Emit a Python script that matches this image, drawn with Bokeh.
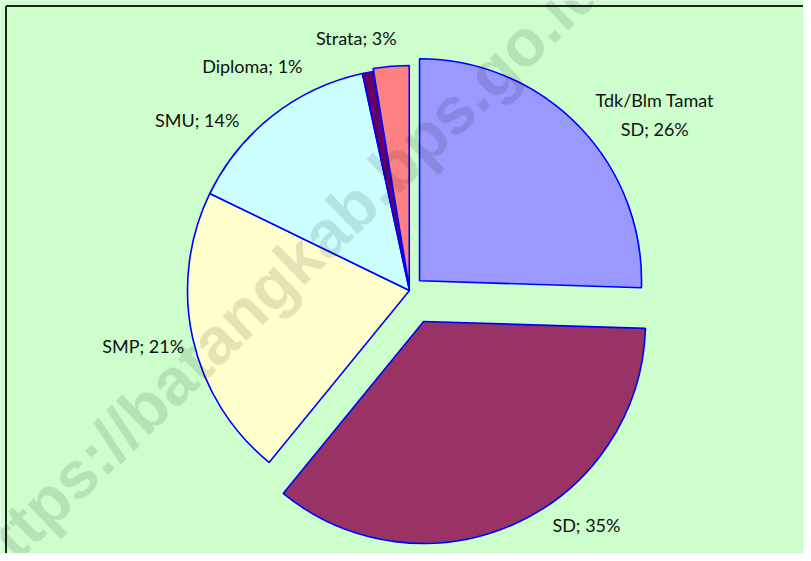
import math
from bokeh.plotting import figure
from bokeh.models import Range1d, ColumnDataSource, Label
from bokeh.embed import file_html
from bokeh.resources import INLINE
from bokeh.core.properties import value

# ---- data ----
categories = ["Tdk/Blm Tamat SD", "SD", "SMP", "SMU", "Diploma", "Strata"]
shares = [25.5, 35.4, 21.3, 14.4, 0.8, 2.6]

# ---- styles ----
colors = ["#9999FF", "#993366", "#FFFFCC", "#CCFFFF", "#660066", "#FF8080"]
explode = [14, 34, 0, 0, 0, 3]            # px offset of each slice
label_place = [(302, 35.7), (294, -53.0), (272, -168.3),
               (272, 141.3), (274, 125.0), (258, 101.9)]  # (radius, deg) of label
label_lines = [2, 1, 1, 1, 1, 1]
BG = "#CCFFCC"
W, H = 803, 553
CX, CY, R = 409, H - 290, 222   # pie centre in plot units (1 unit = 1 px)

p = figure(width=W, height=H, output_backend="svg", toolbar_location=None,
           x_range=Range1d(0, W), y_range=Range1d(0, H),
           min_border=0, background_fill_color=BG, border_fill_color=BG,
           outline_line_color=None)
p.axis.visible = False
p.grid.visible = False

total = sum(shares)
xs, ys, a0s, a1s, lx, ly, texts = [], [], [], [], [], [], []
cum = 0.0
for cat, v, ex, (lr, la), nl in zip(categories, shares, explode, label_place, label_lines):
    start = 90 - (cum + v) / total * 360
    end = 90 - cum / total * 360
    mid = math.radians((start + end) / 2)
    cum += v
    xs.append(CX + ex * math.cos(mid))
    ys.append(CY + ex * math.sin(mid))
    a0s.append(math.radians(start))
    a1s.append(math.radians(end))
    lx.append(CX + lr * math.cos(math.radians(la)))
    ly.append(CY + lr * math.sin(math.radians(la)))
    pct = int(v / total * 100 + 0.5)
    if nl == 2:
        head, tail = cat.rsplit(" ", 1)
        texts.append(f"{head}\n{tail}; {pct}%")
    else:
        texts.append(f"{cat}; {pct}%")

src = ColumnDataSource(dict(x=xs, y=ys, a0=a0s, a1=a1s, color=colors,
                            lx=lx, ly=ly, text=texts))

p.wedge(x="x", y="y", radius=R, start_angle="a0", end_angle="a1",
        direction="anticlock", fill_color="color", line_color="#0000FF",
        line_width=1.6, source=src)

p.text(x="lx", y="ly", text="text", source=src, text_align="center",
       text_baseline="middle", text_font=value("Lato"), text_font_size="18px",
       text_color="#111111", text_line_height=1.3)

wm = Label(x=281, y=H - 275, text="https://batangkab.bps.go.id",
           angle=44, angle_units="deg", text_align="center",
           text_baseline="middle", text_font="Liberation Sans",
           text_font_style="bold", text_font_size="66px",
           text_color="#000000", text_alpha=0.11)
p.add_layout(wm)

# frame edges (top and left)
p.segment(x0=[5.5, 5.5], y0=[0, H - 5.5], x1=[5.5, W], y1=[H - 5.5, H - 5.5],
          line_color="#222222", line_width=2)

open("out.html", "w").write(file_html(p, INLINE))
